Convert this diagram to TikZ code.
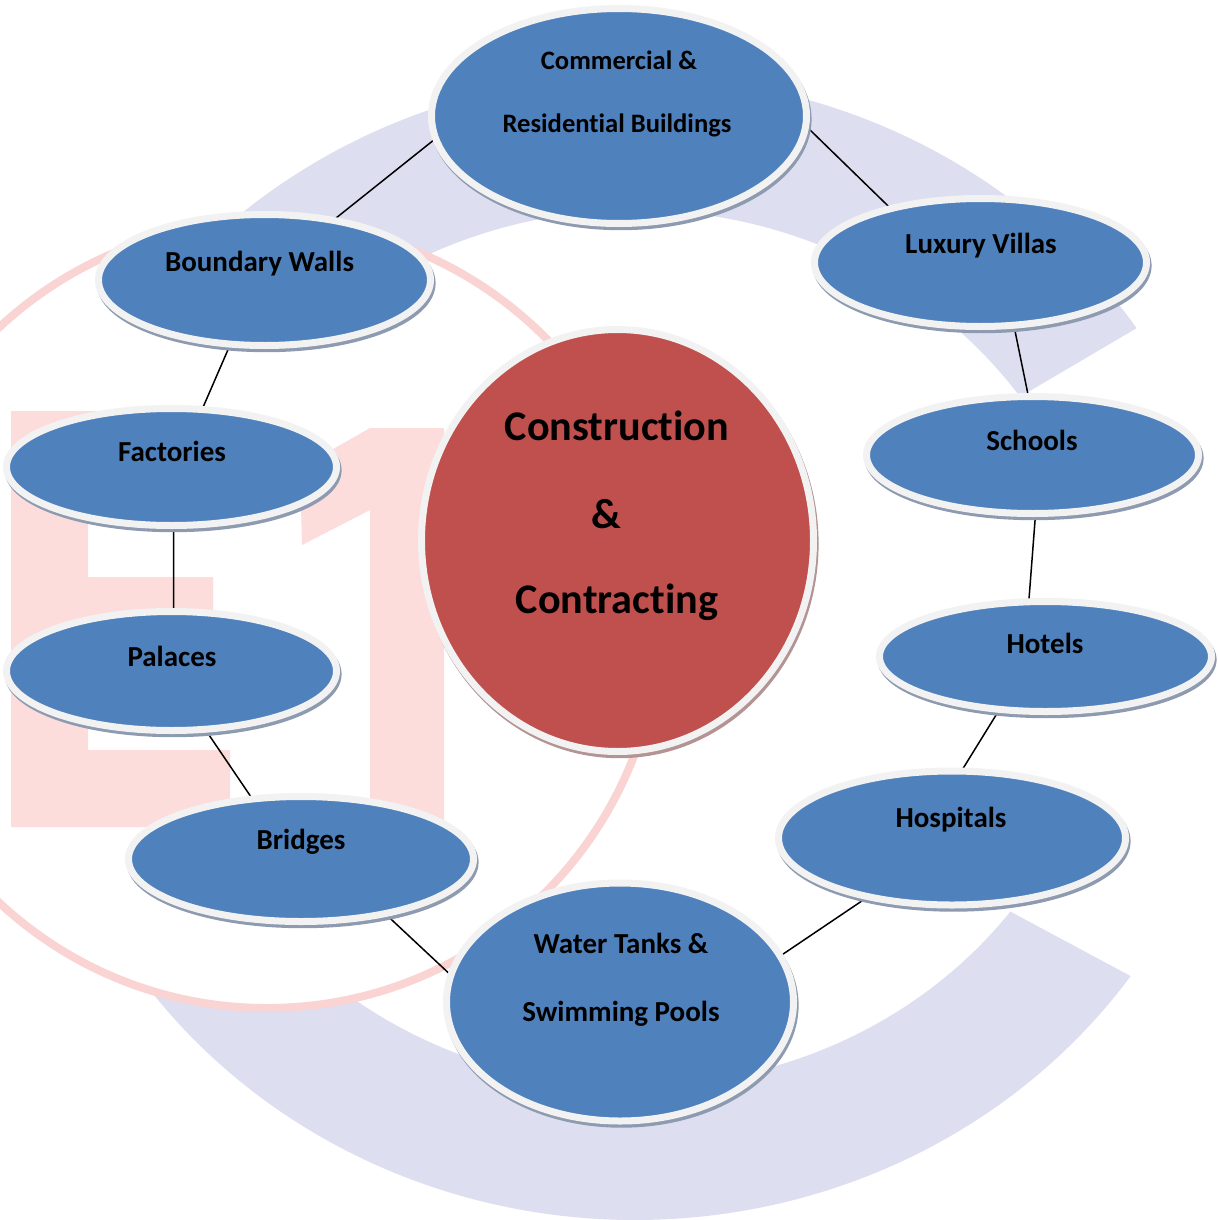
\documentclass[tikz,border=0pt]{standalone}
\usepackage{fontspec}
\setmainfont{Carlito}[Ligatures=NoCommon]
\usetikzlibrary{shapes.geometric,shadows,calc}
\definecolor{blueF}{HTML}{4F81BD}
\definecolor{redF}{HTML}{C0504D}
\definecolor{rimC}{HTML}{F2F2F2}
\definecolor{shB}{HTML}{8D9AB0}
\definecolor{shR}{HTML}{B39393}
\definecolor{lav}{HTML}{DEDEF1}
\definecolor{pinkW}{HTML}{FDDCDC}
\definecolor{pinkL}{HTML}{FAD3D3}
\pgfdeclarelayer{wm}
\pgfdeclarelayer{cn}
\pgfsetlayers{wm,cn,main}
\begin{document}
\begin{tikzpicture}[x=0.5pt,y=-0.5pt,
  blob/.style={ellipse, fill=blueF, draw=rimC, line width=3.5pt, inner sep=0pt, outer sep=0pt,
    drop shadow={shadow xshift=0.8pt, shadow yshift=-1.6pt, opacity=1, fill=shB, draw=shB, line width=3.5pt}},
  hub/.style={ellipse, fill=redF, draw=rimC, line width=3.5pt, inner sep=0pt, outer sep=0pt,
    drop shadow={shadow xshift=0.8pt, shadow yshift=-1.6pt, opacity=1, fill=shR, draw=shR, line width=3.5pt}},
  lbl/.style={font=\fontsize{14.5}{17}\selectfont\bfseries, anchor=base, inner sep=0pt},
  lblS/.style={lbl, font=\fontsize{13.3}{16}\selectfont\bfseries},
  lblB/.style={lbl, font=\fontsize{21.1}{25}\selectfont\bfseries},
  link/.style={black, line width=0.75pt}]
\useasboundingbox (0,0) rectangle (1217,1220);

\begin{pgfonlayer}{wm}
  \fill[white] (0,0) rectangle (1217,1220);
  \begin{scope}
    \clip (0,0) rectangle (1217,1220);
    \coordinate (cC) at (635,648);
    \fill[lav] ($(cC)+(-34:605 and 572)$) arc[start angle=-34, end angle=-325, x radius=605, y radius=572]
      -- ($(cC)+(-323:470 and 438)$) arc[start angle=-323, end angle=-35, x radius=470, y radius=438] -- cycle;
    \coordinate (cP) at (267,615);
    \draw[pinkL, fill=white, line width=4pt] (cP) circle[radius=393];
    \fill[pinkW] (11,411) -- (240,411) -- (240,488) -- (88,488) -- (88,577) -- (213,577) -- (213,655)
      -- (88,655) -- (88,750) -- (230,750) -- (230,827) -- (11,827) -- cycle;
    \fill[pinkW] (370,428) -- (444,428) -- (444,827) -- (370,827) -- (370,510) -- (302,545) -- (300,468) -- cycle;
  \end{scope}
\end{pgfonlayer}

\node[blob, minimum width=187.5pt, minimum height=107.5pt] (com) at (619,116) {};
\node[blob, minimum width=166pt, minimum height=64pt] (lux) at (980.5,262.5) {};
\node[blob, minimum width=166pt, minimum height=58.5pt] (sch) at (1032.5,455) {};
\node[blob, minimum width=166pt, minimum height=55pt] (hot) at (1045.5,656.5) {};
\node[blob, minimum width=173.5pt, minimum height=67pt] (hos) at (952,838) {};
\node[blob, minimum width=173.5pt, minimum height=119pt] (wat) at (620,1002) {};
\node[blob, minimum width=172.5pt, minimum height=62.5pt] (bri) at (301,859) {};
\node[blob, minimum width=165pt, minimum height=59.5pt] (pal) at (171.5,671) {};
\node[blob, minimum width=165pt, minimum height=58.5pt] (fac) at (171.5,467) {};
\node[blob, minimum width=166pt, minimum height=65.5pt] (bou) at (264.5,280) {};
\node[hub, minimum width=196pt, minimum height=211pt] (cen) at (617.5,540.5) {};

\begin{pgfonlayer}{cn}
  \draw[link] (com.187.2) -- (bou.41.9);
  \draw[link] (com.357.4) -- (lux.149.9);
  \draw[link] (lux.298) -- (sch.94.2);
  \draw[link] (sch.273.7) -- (hot.107.2);
  \draw[link] (hot.229.4) -- (hos.82.6);
  \draw[link] (hos.215.3) -- (wat.16.4);
  \draw[link] (wat.171.7) -- (bri.327.1);
  \draw[link] (bri.129.4) -- (pal.300.7);
  \draw[link] (pal.88) -- (fac.272);
  \draw[link] (fac.62.7) -- (bou.242.5);
\end{pgfonlayer}

\node[lblS] (tcom1) at (619,70) {Commercial \&};
\node[lblS] (tcom2) at (617,133) {Residential Buildings};
\node[lbl] (tbou) at (259.5,271) {Boundary Walls};
\node[lbl] (tlux) at (981,253) {Luxury Villas};
\node[lbl] (tsch) at (1032,450) {Schools};
\node[lbl] (thot) at (1045,653) {Hotels};
\node[lbl] (thos) at (951,827) {Hospitals};
\node[lbl] (tfac) at (172,461) {Factories};
\node[lbl] (tpal) at (172,666) {Palaces};
\node[lbl] (tbri) at (301,849) {Bridges};
\node[lbl] (twat1) at (621,953) {Water Tanks \&};
\node[lbl] (twat2) at (621,1021) {Swimming Pools};
\node[lblB] (th1) at (617,440) {Construction};
\node[lblB] (th2) at (606,528) {\&};
\node[lblB] (th3) at (617,613) {Contracting};
\end{tikzpicture}
\end{document}
